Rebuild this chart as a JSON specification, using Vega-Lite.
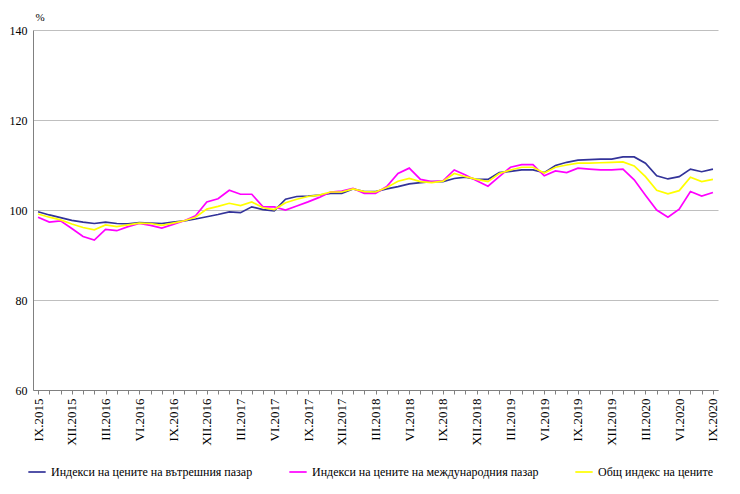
{
  "$schema": "https://vega.github.io/schema/vega-lite/v6.json",
  "width": 685,
  "height": 360,
  "autosize": "none",
  "padding": {"left": 33, "top": 30, "right": 22, "bottom": 104},
  "background": "white",
  "config": {
    "view": {"stroke": null},
    "font": "Liberation Serif"
  },
  "data": {
    "values": [
      {"m":"IX.2015","d":99.6,"i":98.4,"g":99.1},
      {"m":"X.2015","d":98.9,"i":97.3,"g":98.4},
      {"m":"XI.2015","d":98.3,"i":97.6,"g":97.8},
      {"m":"XII.2015","d":97.7,"i":95.9,"g":96.9},
      {"m":"I.2016","d":97.3,"i":94.1,"g":96.1},
      {"m":"II.2016","d":97.0,"i":93.3,"g":95.6},
      {"m":"III.2016","d":97.3,"i":95.7,"g":96.7},
      {"m":"IV.2016","d":97.0,"i":95.4,"g":96.3},
      {"m":"V.2016","d":96.9,"i":96.3,"g":96.7},
      {"m":"VI.2016","d":97.2,"i":97.0,"g":97.1},
      {"m":"VII.2016","d":97.1,"i":96.6,"g":97.0},
      {"m":"VIII.2016","d":97.0,"i":96.0,"g":96.6},
      {"m":"IX.2016","d":97.3,"i":96.8,"g":97.1},
      {"m":"X.2016","d":97.6,"i":97.6,"g":97.6},
      {"m":"XI.2016","d":98.0,"i":98.7,"g":98.4},
      {"m":"XII.2016","d":98.5,"i":101.8,"g":100.2},
      {"m":"I.2017","d":99.0,"i":102.5,"g":100.8},
      {"m":"II.2017","d":99.6,"i":104.4,"g":101.5},
      {"m":"III.2017","d":99.4,"i":103.5,"g":101.0},
      {"m":"IV.2017","d":100.7,"i":103.5,"g":101.8},
      {"m":"V.2017","d":100.1,"i":100.7,"g":100.5},
      {"m":"VI.2017","d":99.8,"i":100.7,"g":100.1},
      {"m":"VII.2017","d":102.4,"i":100.0,"g":101.6},
      {"m":"VIII.2017","d":103.0,"i":100.9,"g":102.4},
      {"m":"IX.2017","d":103.1,"i":101.8,"g":103.0},
      {"m":"X.2017","d":103.3,"i":102.8,"g":103.3},
      {"m":"XI.2017","d":103.7,"i":104.0,"g":104.0},
      {"m":"XII.2017","d":103.7,"i":104.2,"g":104.0},
      {"m":"I.2018","d":104.7,"i":104.8,"g":104.7},
      {"m":"II.2018","d":104.1,"i":103.7,"g":104.1},
      {"m":"III.2018","d":104.1,"i":103.7,"g":104.0},
      {"m":"IV.2018","d":104.7,"i":105.2,"g":105.0},
      {"m":"V.2018","d":105.2,"i":108.1,"g":106.4},
      {"m":"VI.2018","d":105.8,"i":109.3,"g":107.0},
      {"m":"VII.2018","d":106.1,"i":106.8,"g":106.3},
      {"m":"VIII.2018","d":106.3,"i":106.3,"g":106.1},
      {"m":"IX.2018","d":106.3,"i":106.5,"g":106.4},
      {"m":"X.2018","d":107.0,"i":108.9,"g":108.1},
      {"m":"XI.2018","d":107.3,"i":107.8,"g":107.4},
      {"m":"XII.2018","d":106.8,"i":106.5,"g":106.8},
      {"m":"I.2019","d":106.8,"i":105.3,"g":106.3},
      {"m":"II.2019","d":108.3,"i":107.4,"g":108.1},
      {"m":"III.2019","d":108.6,"i":109.5,"g":108.9},
      {"m":"IV.2019","d":108.9,"i":110.1,"g":109.5},
      {"m":"V.2019","d":108.9,"i":110.1,"g":109.5},
      {"m":"VI.2019","d":108.3,"i":107.6,"g":108.2},
      {"m":"VII.2019","d":109.9,"i":108.7,"g":109.5},
      {"m":"VIII.2019","d":110.6,"i":108.3,"g":110.0},
      {"m":"IX.2019","d":111.1,"i":109.3,"g":110.4},
      {"m":"X.2019","d":111.2,"i":109.1,"g":110.4},
      {"m":"XI.2019","d":111.3,"i":108.9,"g":110.5},
      {"m":"XII.2019","d":111.3,"i":108.9,"g":110.6},
      {"m":"I.2020","d":111.8,"i":109.1,"g":110.7},
      {"m":"II.2020","d":111.8,"i":106.7,"g":109.8},
      {"m":"III.2020","d":110.4,"i":103.3,"g":107.4},
      {"m":"IV.2020","d":107.6,"i":100.0,"g":104.4},
      {"m":"V.2020","d":106.9,"i":98.4,"g":103.6},
      {"m":"VI.2020","d":107.4,"i":100.2,"g":104.3},
      {"m":"VII.2020","d":109.1,"i":104.1,"g":107.3},
      {"m":"VIII.2020","d":108.5,"i":103.1,"g":106.3},
      {"m":"IX.2020","d":109.1,"i":103.9,"g":106.8}
    ]
  },
  "transform": [
    {"fold": ["d", "i", "g"], "as": ["k", "v"]},
    {"lookup": "k", "from": {"data": {"values": [
      {"k":"d","name":"Индекси на цените на вътрешния пазар","o":0},
      {"k":"i","name":"Индекси на цените на международния пазар","o":1},
      {"k":"g","name":"Общ индекс на цените","o":2}
    ]}, "key": "k", "fields": ["name", "o"]}}
  ],
  "mark": {"type": "line", "strokeWidth": 1.7, "clip": true},
  "encoding": {
    "x": {
      "field": "m", "type": "nominal", "sort": null,
      "scale": {"type": "point", "padding": 0.45},
      "axis": {
        "title": null,
        "labelAngle": -90,
        "labelAlign": "right",
        "labelBaseline": "middle",
        "labelFontSize": 13,
        "labelFont": "Liberation Serif",
        "labelColor": "#000000",
        "labelPadding": 4,
        "labelOverlap": false,
        "labelExpr": "indexof(['IX','XII','III','VI'], split(datum.value, '.')[0]) >= 0 ? datum.value : ''",
        "tickSize": 4,
        "tickColor": "#808080",
        "domainColor": "#808080",
        "grid": false
      }
    },
    "y": {
      "field": "v", "type": "quantitative",
      "scale": {"domain": [60, 140], "nice": false, "zero": false},
      "axis": {
        "values": [60, 80, 100, 120, 140],
        "title": "%",
        "titleAngle": 0,
        "titleX": 2,
        "titleY": -13,
        "titleAlign": "left",
        "titleBaseline": "middle",
        "titleFont": "Liberation Serif",
        "titleFontWeight": "normal",
        "titleFontSize": 11,
        "labelFont": "Liberation Serif",
        "labelFontSize": 12,
        "labelColor": "#000000",
        "labelPadding": 6,
        "ticks": false,
        "domainColor": "#808080",
        "gridColor": "#BFBFBF",
        "gridWidth": 1.2
      }
    },
    "color": {
      "field": "name", "type": "nominal",
      "sort": ["Индекси на цените на вътрешния пазар", "Индекси на цените на международния пазар", "Общ индекс на цените"],
      "scale": {
        "domain": ["Индекси на цените на вътрешния пазар", "Индекси на цените на международния пазар", "Общ индекс на цените"],
        "range": ["#333399", "#FF00FF", "#FFFF00"]
      },
      "legend": {
        "title": null,
        "orient": "none",
        "legendX": -6,
        "legendY": 432,
        "direction": "horizontal",
        "symbolType": "stroke",
        "symbolSize": 300,
        "symbolStrokeWidth": 1.7,
        "labelFont": "Liberation Serif",
        "labelFontSize": 12,
        "labelColor": "#000000",
        "labelLimit": 400,
        "gridAlign": "none",
        "columnPadding": 32
      }
    },
    "order": {"field": "o"}
  }
}
